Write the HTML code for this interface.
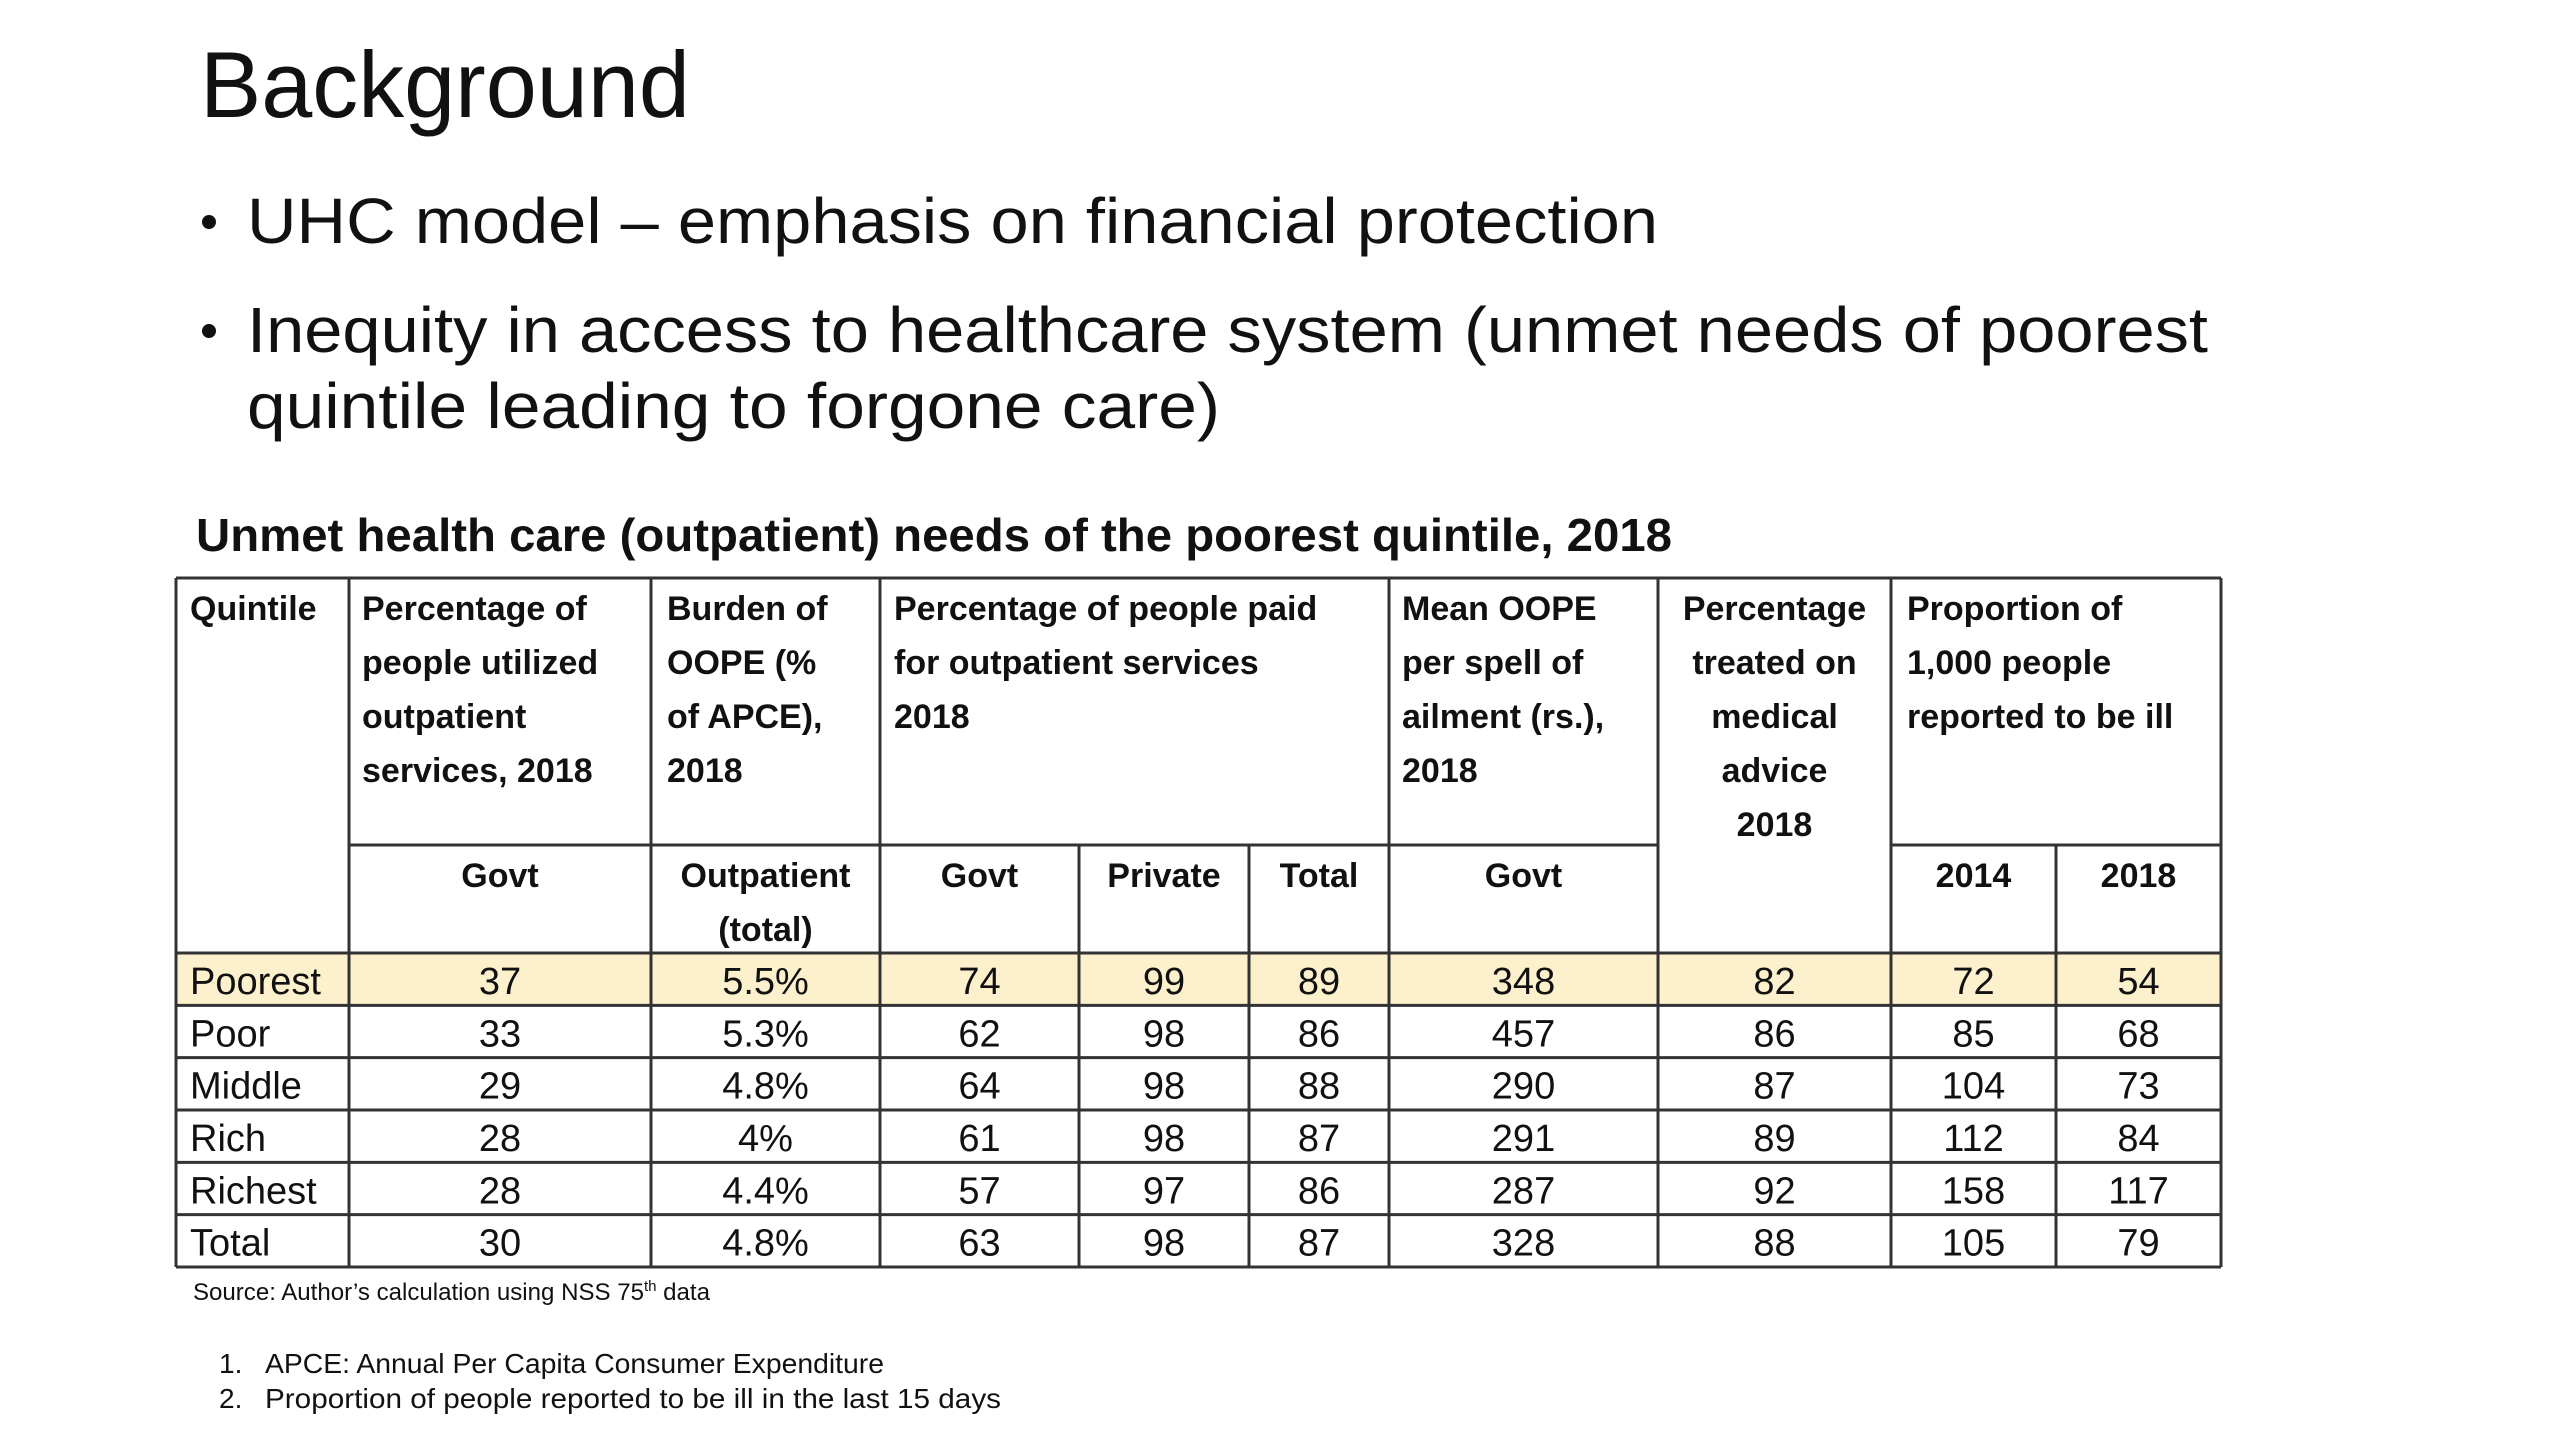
<!DOCTYPE html>
<html><head><meta charset="utf-8">
<style>
html,body{margin:0;padding:0;background:#fff;}
svg{display:block;}
text{font-family:"Liberation Sans",sans-serif;fill:#111;}
</style></head>
<body>
<svg id="slide" width="2560" height="1440" viewBox="0 0 2560 1440" xmlns="http://www.w3.org/2000/svg">
<rect width="2560" height="1440" fill="#fff"/>
<text x="200" y="117" font-size="94" textLength="490" lengthAdjust="spacingAndGlyphs">Background</text>
<g>
<circle cx="209" cy="222" r="7" fill="#111"/>
<text x="247" y="243" font-size="64" textLength="1411" lengthAdjust="spacingAndGlyphs">UHC model – emphasis on financial protection</text>
<circle cx="209" cy="331" r="7" fill="#111"/>
<text x="247" y="352" font-size="64" textLength="1961" lengthAdjust="spacingAndGlyphs">Inequity in access to healthcare system (unmet needs of poorest</text>
<text x="247" y="428" font-size="64" textLength="973" lengthAdjust="spacingAndGlyphs">quintile leading to forgone care)</text>
</g>
<text x="196" y="551" font-size="46" font-weight="bold" textLength="1476" lengthAdjust="spacingAndGlyphs">Unmet health care (outpatient) needs of the poorest quintile, 2018</text>
<g id="tbl"></g>
<text x="193" y="1300" font-size="24" textLength="517" lengthAdjust="spacingAndGlyphs">Source: Author’s calculation using NSS 75<tspan font-size="15" dy="-9">th</tspan><tspan dy="9"> data</tspan></text>
<text x="219" y="1373" font-size="28">1.</text>
<text x="265" y="1373" font-size="28" textLength="619" lengthAdjust="spacingAndGlyphs">APCE: Annual Per Capita Consumer Expenditure</text>
<text x="219" y="1408" font-size="28">2.</text>
<text x="265" y="1408" font-size="28" textLength="736" lengthAdjust="spacingAndGlyphs">Proportion of people reported to be ill in the last 15 days</text>
</svg>
<script>
const quintiles = ["Poorest","Poor","Middle","Rich","Richest","Total"];
const utilizedGovt = ["37","33","29","28","28","30"];
const oopeBurden = ["5.5%","5.3%","4.8%","4%","4.4%","4.8%"];
const paidGovt = ["74","62","64","61","57","63"];
const paidPrivate = ["99","98","98","98","97","98"];
const paidTotal = ["89","86","88","87","86","87"];
const meanOope = ["348","457","290","291","287","328"];
const treatedPct = ["82","86","87","89","92","88"];
const ill2014 = ["72","85","104","112","158","105"];
const ill2018 = ["54","68","73","84","117","79"];

const NS="http://www.w3.org/2000/svg";
const g=document.getElementById('tbl');
const colX=[176,349,651,880,1079,1249,1389,1658,1891,2056,2221];
const tblTop=578, tblSubTop=845, tblDataTop=953, rowH=52.33, tblBottom=1267;
function mk(tag,attrs,txt){const e=document.createElementNS(NS,tag);for(const k in attrs)e.setAttribute(k,attrs[k]);if(txt!==undefined)e.textContent=txt;g.appendChild(e);return e;}
const hl=mk('rect',{x:colX[0],y:tblDataTop,width:colX[10]-colX[0],height:rowH,fill:'#fdf0cc'});


function line(x1,y1,x2,y2,n){const l=mk('line',{x1,y1,x2,y2,stroke:'#333','stroke-width':3});

}
line(colX[0],tblTop,colX[10],tblTop,'table-top-border');
line(colX[0],tblBottom,colX[10],tblBottom,'table-bottom-border');
line(colX[1],tblSubTop,colX[6],tblSubTop,'subheader-line-left');
line(colX[6],tblSubTop,colX[7],tblSubTop,'subheader-line-oope');
line(colX[8],tblSubTop,colX[10],tblSubTop,'subheader-line-ill');
for(let r=0;r<6;r++){line(colX[0],tblDataTop+r*rowH,colX[10],tblDataTop+r*rowH,'row-line');}
const fullCols=[0,1,2,3,6,7,8,10];
fullCols.forEach(i=>line(colX[i],tblTop,colX[i],tblBottom,'column-line'));
[4,5,9].forEach(i=>line(colX[i],tblSubTop,colX[i],tblBottom,'column-line'));
function t(x,y,s,opts){const e=mk('text',Object.assign({x,y,'font-size':34,'font-weight':'bold'},opts||{}),s);

return e;}
const L=[620,674,728,782,836];
t(190,L[0],'Quintile');
['Percentage of','people utilized','outpatient','services, 2018'].forEach((s,i)=>t(362,L[i],s));
['Burden of','OOPE (%','of APCE),','2018'].forEach((s,i)=>t(667,L[i],s));
['Percentage of people paid','for outpatient services','2018'].forEach((s,i)=>t(894,L[i],s));
['Mean OOPE','per spell of','ailment (rs.),','2018'].forEach((s,i)=>t(1402,L[i],s));
['Percentage','treated on','medical','advice','2018'].forEach((s,i)=>t((colX[7]+colX[8])/2,L[i],s,{'text-anchor':'middle'}));
['Proportion of','1,000 people','reported to be ill'].forEach((s,i)=>t(1907,L[i],s));
const sub=[[1,'Govt'],[2,'Outpatient'],[3,'Govt'],[4,'Private'],[5,'Total'],[6,'Govt'],[8,'2014'],[9,'2018']];
sub.forEach(([c,s])=>t((colX[c]+colX[c+1])/2,887,s,{'text-anchor':'middle'}));
t((colX[2]+colX[3])/2,941,'(total)',{'text-anchor':'middle'});
const cols=[utilizedGovt,oopeBurden,paidGovt,paidPrivate,paidTotal,meanOope,treatedPct,ill2014,ill2018];
quintiles.forEach((q,r)=>{
  const y=tblDataTop+r*rowH+41;
  const e=mk('text',{x:190,y,'font-size':38},q);
  
  
  cols.forEach((arr,c)=>{
    const v=mk('text',{x:(colX[c+1]+colX[c+2])/2,y,'font-size':38,'text-anchor':'middle'},arr[r]);
    
    
  });
});
</script>
</body></html>
